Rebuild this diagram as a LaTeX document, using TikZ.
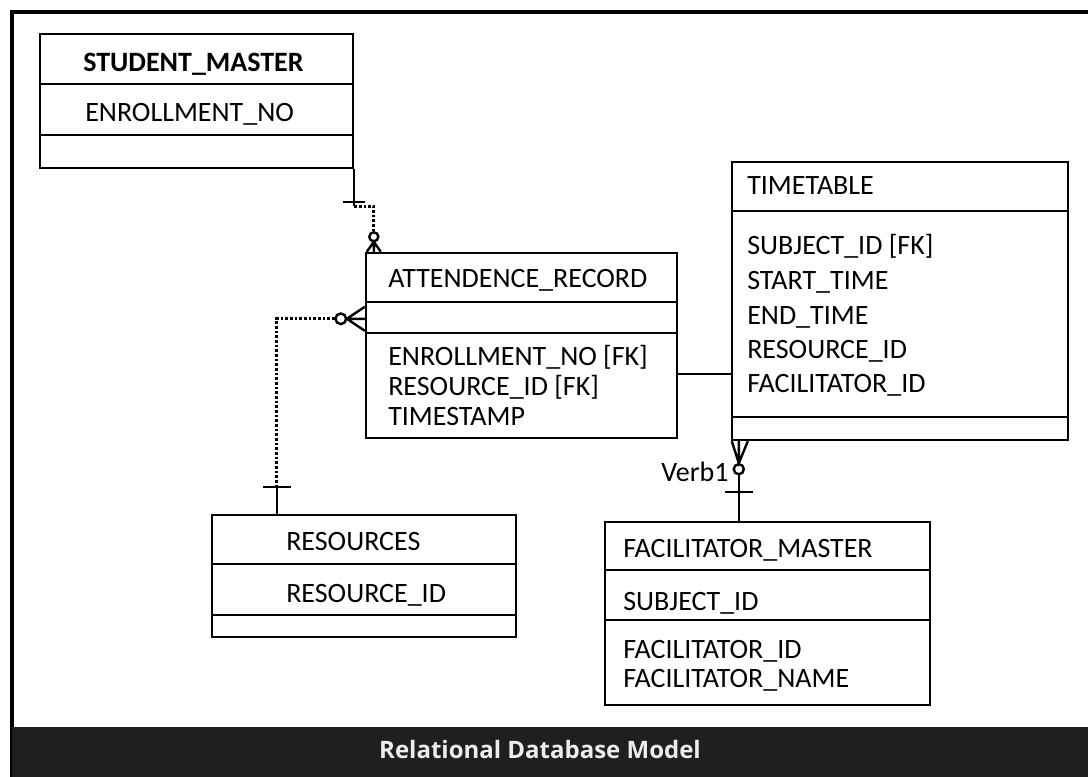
\documentclass[tikz,border=0pt]{standalone}
\usepackage{fontspec}
\setmainfont{Carlito}
\newfontfamily\titlefont{Open Sans}
\usetikzlibrary{calc,fit}
\begin{document}
\begin{tikzpicture}[x=0.75pt,y=-0.75pt,
  entity/.style={draw, line width=1.8pt, inner sep=0pt},
  sep/.style={line width=1.8pt},
  link/.style={line width=1.8pt},
  dotlink/.style={line width=2pt, dash pattern=on 2pt off 1.5pt},
  txt/.style={anchor=base west, inner sep=0pt, font=\fontsize{21}{25}\selectfont},
  hdr/.style={txt},
]
\useasboundingbox (0,0) rectangle (1088,777);

% page frame and caption band
\draw[line width=2.8pt] (12,790) -- (12,12) -- (1100,12);
\fill[black!88] (12,727) rectangle (1100,790);
\node[font=\titlefont\bfseries\fontsize{18}{22}\selectfont, text=white!93!black, inner sep=0pt, anchor=base] (title) at (540,758) {Relational Database Model};

% entity boxes
\node[entity, fit={(40,34) (353,168)}] (sm) {};
\node[entity, fit={(366,253) (677,438)}] (ar) {};
\node[entity, fit={(732,162) (1068,440)}] (tt) {};
\node[entity, fit={(212,515) (516,637)}] (res) {};
\node[entity, fit={(605,522) (930,705)}] (fm) {};

% compartment separators
\draw[sep] ($(sm.north west)+(0,51)$) -- ($(sm.north east)+(0,51)$);
\draw[sep] ($(sm.north west)+(0,102)$) -- ($(sm.north east)+(0,102)$);
\draw[sep] ($(ar.north west)+(0,50)$) -- ($(ar.north east)+(0,50)$);
\draw[sep] ($(ar.north west)+(0,81)$) -- ($(ar.north east)+(0,81)$);
\draw[sep] ($(tt.north west)+(0,50)$) -- ($(tt.north east)+(0,50)$);
\draw[sep] ($(tt.north west)+(0,256)$) -- ($(tt.north east)+(0,256)$);
\draw[sep] ($(res.north west)+(0,50)$) -- ($(res.north east)+(0,50)$);
\draw[sep] ($(res.north west)+(0,101)$) -- ($(res.north east)+(0,101)$);
\draw[sep] ($(fm.north west)+(0,49)$) -- ($(fm.north east)+(0,49)$);
\draw[sep] ($(fm.north west)+(0,99)$) -- ($(fm.north east)+(0,99)$);

% texts
\node[hdr, font=\bfseries\fontsize{21}{25}\selectfont] (smh) at (83,72) {STUDENT\_MASTER};
\node[txt] (sm1) at (85,122) {ENROLLMENT\_NO};

\node[hdr] (arh) at (388,287) {ATTENDENCE\_RECORD};
\node[txt] (ar1) at (388,365) {ENROLLMENT\_NO [FK]};
\node[txt] (ar2) at (388,395) {RESOURCE\_ID [FK]};
\node[txt] (ar3) at (388,425) {TIMESTAMP};

\node[hdr] (tth) at (747,195) {TIMETABLE};
\node[txt] (tt1) at (747,255) {SUBJECT\_ID [FK]};
\node[txt] (tt2) at (747,290) {START\_TIME};
\node[txt] (tt3) at (747,324) {END\_TIME};
\node[txt] (tt4) at (747,358) {RESOURCE\_ID};
\node[txt] (tt5) at (747,392) {FACILITATOR\_ID};

\node[hdr] (resh) at (286,550) {RESOURCES};
\node[txt] (res1) at (286,602) {RESOURCE\_ID};

\node[hdr] (fmh) at (623,557) {FACILITATOR\_MASTER};
\node[txt] (fm1) at (623,610) {SUBJECT\_ID};
\node[txt] (fm2) at (623,658) {FACILITATOR\_ID};
\node[txt] (fm3) at (623,687) {FACILITATOR\_NAME};

% STUDENT_MASTER -- ATTENDENCE_RECORD
\coordinate (k1) at ($(sm.south east)+(0,37)$);
\coordinate (a1) at ($(ar.north west)+(9,0)$);
\draw[link] (sm.south east) -- (k1);
\draw[link] ($(k1)+(-11,-4)$) -- ++(22,0);
\draw[dotlink] (k1) -| ($(a1)+(0,-20)$);
\draw[link] ($(a1)+(0,-15)$) circle[radius=3.4pt];
\draw[link] ($(a1)+(-7,0)$) -- ($(a1)+(0,-10)$) -- ($(a1)+(7,0)$)
            (a1) -- ($(a1)+(0,-10)$);

% RESOURCES -- ATTENDENCE_RECORD
\coordinate (a2) at ($(ar.north west)+(0,67)$);
\coordinate (r1) at ($(res.north west)+(66,0)$);
\draw[link] ($(a2)+(0,-12)$) -- ($(a2)+(-18,0)$) -- ($(a2)+(0,12)$)
            (a2) -- ($(a2)+(-18,0)$);
\draw[link] ($(a2)+(-24,0)$) circle[radius=4pt];
\draw[dotlink] ($(a2)+(-30,0)$) -| ($(r1)+(0,-27)$);
\draw[link] ($(r1)+(0,-27)$) -- (r1);
\draw[link] ($(r1)+(-14,-27)$) -- ++(28,0);

% ATTENDENCE_RECORD -- TIMETABLE
\coordinate (h1) at ($(ar.north east)+(0,122)$);
\draw[link] (h1) -- (h1 -| tt.west);

% TIMETABLE -- FACILITATOR_MASTER
\coordinate (t1) at ($(tt.south west)+(8,0)$);
\coordinate (f1) at ($(fm.north west)+(135,0)$);
\draw[link] ($(t1)+(-7,0)$) -- ($(t1)+(0,22)$) -- ($(t1)+(9,0)$)
            (t1) -- ($(t1)+(0,22)$);
\draw[link] ($(t1)+(0,28)$) circle[radius=3.8pt];
\draw[link] ($(t1)+(0,33)$) -- (f1);
\draw[link] ($(f1)+(-14,-29)$) -- ++(28,0);
\node[txt, anchor=base east] (vb) at ($(t1)+(-10,40)$) {Verb1};

\end{tikzpicture}
\end{document}
